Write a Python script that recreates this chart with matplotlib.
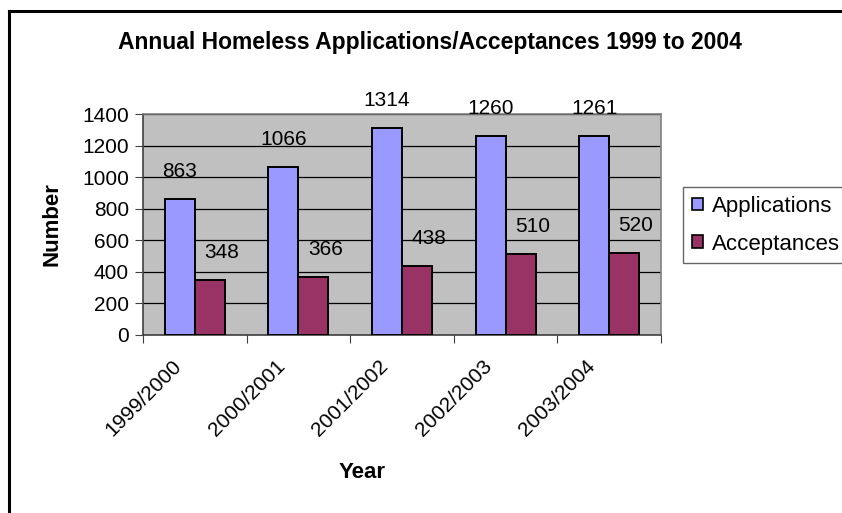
import matplotlib.pyplot as plt
import numpy as np
from matplotlib.lines import Line2D
from matplotlib.patches import Patch

years = ["1999/2000", "2000/2001", "2001/2002", "2002/2003", "2003/2004"]
applications = [863, 1066, 1314, 1260, 1261]
acceptances = [348, 366, 438, 510, 520]

plt.rcParams["font.family"] = ["Liberation Sans", "DejaVu Sans"]

W, H = 842, 513
fig = plt.figure(figsize=(W / 100, H / 100), dpi=100)

# plot area placed in pixel terms
left, right, top, bottom = 143, 661, 114, 335
ax = fig.add_axes([left / W, 1 - bottom / H, (right - left) / W, (bottom - top) / H])
ax.set_facecolor("#C0C0C0")

x = np.arange(len(years))
bar_w = 0.29
bars_app = ax.bar(x - bar_w / 2, applications, bar_w, color="#9999FF",
                  edgecolor="black", linewidth=1.4, label="Applications", zorder=3)
bars_acc = ax.bar(x + bar_w / 2, acceptances, bar_w, color="#993366",
                  edgecolor="black", linewidth=1.4, label="Acceptances", zorder=3)

# value labels; the acceptances ones sit a little to the right
for bars, vals, dx in ((bars_app, applications, 0), (bars_acc, acceptances, 8.5)):
    for b, v in zip(bars, vals):
        ax.annotate(str(v), (b.get_x() + b.get_width() / 2, v),
                    xytext=(dx, 13), textcoords="offset points",
                    ha="center", va="bottom", fontsize=15, clip_on=False)

ax.set_xlim(-0.5, len(years) - 0.5)
ax.set_ylim(0, 1400)
ax.set_yticks(np.arange(0, 1401, 200))
ax.yaxis.grid(True, color="black", linewidth=0.9, zorder=1)
ax.set_axisbelow(True)

# category ticks on the boundaries, rotated names drawn below each group
ax.set_xticks(np.arange(-0.5, len(years)))
ax.set_xticklabels([])
ax.tick_params(axis="x", length=6, color="#404040")
for xi, name in zip(x, years):
    ax.annotate(name, (xi, 0), xytext=(-12, -20), textcoords="offset points",
                rotation=45, ha="right", va="center", rotation_mode="anchor",
                fontsize=15, annotation_clip=False)
ax.tick_params(axis="y", length=6, color="#404040", labelsize=15, pad=4)

for s in ax.spines.values():
    s.set_color("#808080")
    s.set_linewidth(1.2)
ax.spines["left"].set_color("#404040")
ax.spines["bottom"].set_color("#404040")

fig.text(52 / W, 1 - 224 / H, "Number", rotation=90, ha="center", va="center",
         fontsize=16, fontweight="bold")
fig.text(362 / W, 1 - 472 / H, "Year", ha="center", va="center",
         fontsize=16, fontweight="bold")

fig.text(430 / W, 1 - 42 / H, "Annual Homeless Applications/Acceptances 1999 to 2004",
         ha="center", va="center", fontsize=16.5, fontweight="bold")

handles = [Patch(facecolor="#9999FF", edgecolor="black", linewidth=1.2, label="Applications"),
           Patch(facecolor="#993366", edgecolor="black", linewidth=1.2, label="Acceptances")]
leg = fig.legend(handles=handles, loc="upper left", bbox_to_anchor=(683 / W, 1 - 187 / H),
                 frameon=True, fancybox=False, fontsize=16, handlelength=0.5,
                 handleheight=0.5, handletextpad=0.4, borderpad=0.4, labelspacing=0.75,
                 borderaxespad=0)
leg.get_frame().set_edgecolor("#404040")
leg.get_frame().set_linewidth(1.0)

# chart border (right and bottom edges fall outside the image)
fig.add_artist(Line2D([9 / W, 9 / W], [0, 1 - 11 / H], color="black", linewidth=2.2,
                      transform=fig.transFigure))
fig.add_artist(Line2D([9 / W, 1.01], [1 - 11 / H, 1 - 11 / H], color="black", linewidth=2.2,
                      transform=fig.transFigure))

fig.savefig("out.png", dpi=100)
